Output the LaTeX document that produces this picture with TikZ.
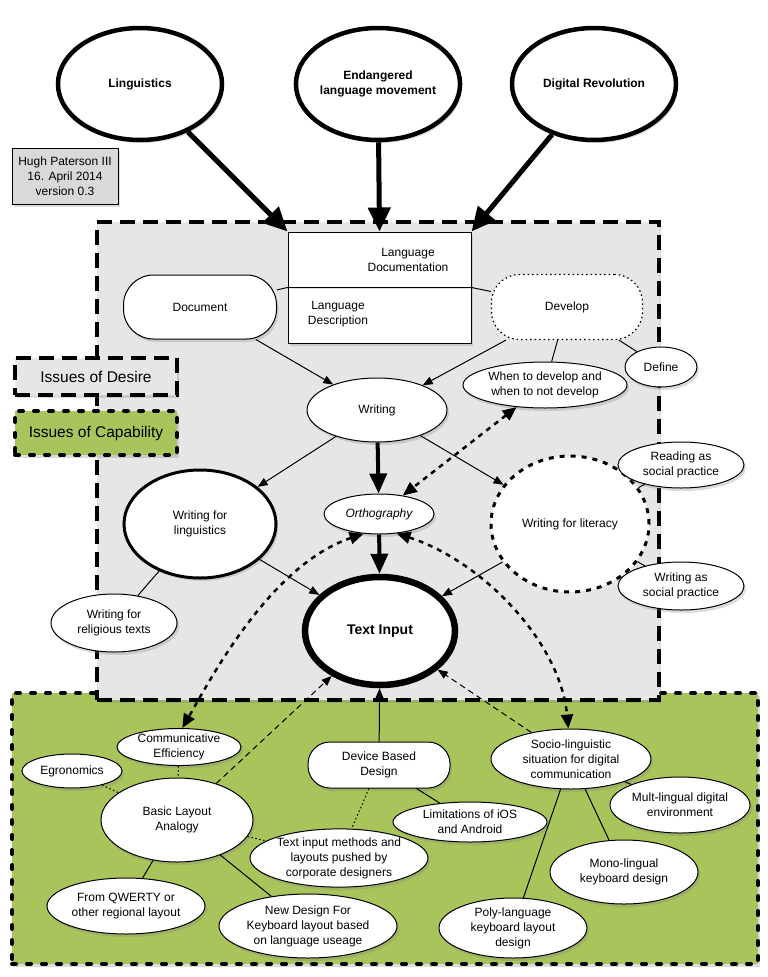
\documentclass[tikz,border=0pt]{standalone}
\usepackage{fontspec}
\setmainfont{Liberation Sans}
\usetikzlibrary{shapes.geometric,arrows.meta,shadows}

\definecolor{desiregray}{RGB}{230,230,230}
\definecolor{capgreen}{RGB}{168,196,90}
\definecolor{notegray}{RGB}{217,217,217}

\newcommand{\diagtext}{\fontsize{12}{15}\selectfont}

\tikzset{
  softshadow/.style={drop shadow={shadow xshift=2pt,shadow yshift=-3pt,opacity=0.28}},
  oval/.style={ellipse,draw,fill=white,line width=1pt,softshadow},
  topoval/.style={oval,line width=4.5pt,font=\bfseries\diagtext},
  desirebox/.style={draw,line width=4pt,dash pattern=on 15pt off 8pt,fill=desiregray,softshadow},
  capbox/.style={draw,line width=4pt,dash pattern=on 4pt off 11pt,line cap=round,fill=capgreen,softshadow},
  roundbox/.style={draw,fill=white,line width=1pt,rounded corners=30pt},
  link/.style={line width=1pt},
  dotlink/.style={line width=1pt,dash pattern=on 1.5pt off 2.5pt},
  arrowlink/.style={line width=1pt,-{Triangle[length=10pt,width=8pt]}},
  bigarrow/.style={line width=5pt,-{Triangle[length=24pt,width=22pt]}},
  midarrow/.style={line width=4pt,-{Triangle[length=20pt,width=17pt]}},
  dotarrow/.style={line width=2.5pt,dash pattern=on 5pt off 5pt,
    {Triangle[length=14pt,width=12pt]}-{Triangle[length=14pt,width=12pt]}},
  dasharrow/.style={line width=1pt,dash pattern=on 6pt off 4pt,-{Triangle[length=10pt,width=8pt]}}
}

\begin{document}
\begin{tikzpicture}[x=1pt,y=-1pt,
  every node/.style={align=center,inner sep=0pt,font=\diagtext}]
\useasboundingbox (0,0) rectangle (768,977);

% background regions
\node[capbox,minimum width=746pt,minimum height=271pt] (capability) at (385,828.5) {};
\node[desirebox,minimum width=562pt,minimum height=478pt] (desire) at (378,461) {};

% legend
\node[desirebox,minimum width=162pt,minimum height=37pt,font=\fontsize{15.5}{18}\selectfont] (legdesire) at (96,376.5) {Issues of Desire};
\node[capbox,minimum width=162pt,minimum height=44pt,font=\fontsize{15.5}{18}\selectfont] (legcap) at (96,433) {Issues of Capability};

% author note
\node[draw,fill=notegray,line width=0.8pt,softshadow,minimum width=106pt,minimum height=56pt,
      font=\fontsize{12}{15}\selectfont] (note) at (65,176) {Hugh Paterson III\\16. April 2014\\version 0.3};

% sources
\node[topoval,minimum width=164pt,minimum height=112pt] (ling) at (140,84) {Linguistics};
\node[topoval,minimum width=164pt,minimum height=112pt] (endg) at (378,84) {Endangered\\language movement};
\node[topoval,minimum width=164pt,minimum height=112pt] (digi) at (594,84) {Digital Revolution};

% documentation box
\node[draw,fill=white,line width=1pt,softshadow,minimum width=183pt,minimum height=111pt] (ldoc) at (379.5,287.5) {};
\node (ldoctop) at (408,260) {Language\\Documentation};
\node (ldocbot) at (338,314) {Language\\Description};

\draw[bigarrow] (ling) -- (ldoc.north west);
\draw[bigarrow] (endg) -- (ldoc.north);
\draw[bigarrow] (digi) -- (ldoc.north east);

\node[roundbox,softshadow,minimum width=153pt,minimum height=64pt] (doc) at (200,307) {Document};
\node[draw,fill=white,line width=1.2pt,dash pattern=on 1.5pt off 3pt,rounded corners=28pt,
      minimum width=151pt,minimum height=65pt] (dev) at (567,307) {Develop};

\draw[link] (doc) -- (ldoc.west) -- (ldoc.east) -- (dev);

\node[oval,minimum width=72pt,minimum height=40pt] (define) at (661,367) {Define};
\node[oval,minimum width=164pt,minimum height=46pt] (when) at (545,385) {When to develop and\\when to not develop};
\draw[link] (dev) -- (define);
\draw[link] (dev) -- (when);

% writing
\node[oval,minimum width=140pt,minimum height=64pt] (writing) at (377,410) {Writing};
\draw[arrowlink] (doc) -- (writing);
\draw[arrowlink] (dev) -- (writing);

\node[oval,line width=3pt,minimum width=152pt,minimum height=108pt] (wfl) at (200,524) {Writing for\\linguistics};
\node[oval,minimum width=110pt,minimum height=40pt,font=\itshape\diagtext] (ortho) at (379,514) {Orthography};
\node[ellipse,draw,fill=white,line width=3pt,dash pattern=on 5pt off 6pt,
      minimum width=158pt,minimum height=136pt] (lit) at (570,524) {Writing for literacy};
\node[oval,minimum width=126pt,minimum height=46pt] (reading) at (681,465) {Reading as\\social practice};
\node[oval,minimum width=126pt,minimum height=48pt] (wsoc) at (681,586) {Writing as\\social practice};
\node[oval,line width=6.5pt,minimum width=150pt,minimum height=108pt,
      font=\bfseries\fontsize{14}{17}\selectfont] (ti) at (380,631) {Text Input};
\node[oval,minimum width=126pt,minimum height=58pt] (relig) at (114,623) {Writing for\\religious texts};

\draw[arrowlink] (writing) -- (wfl);
\draw[midarrow] (writing) -- (ortho);
\draw[arrowlink] (writing) -- (lit);
\draw[midarrow] (ortho) -- (ti);
\draw[arrowlink] (wfl) -- (ti);
\draw[arrowlink] (lit) -- (ti);
\draw[link] (wfl) -- (relig);
\draw[link] (lit) -- (reading);
\draw[link] (lit) -- (wsoc);
\draw[dotarrow] (when) -- (ortho);

% capability nodes
\node[oval,minimum width=124pt,minimum height=36pt] (comm) at (179,747) {Communicative\\Efficiency};
\node[oval,minimum width=100pt,minimum height=34pt] (egro) at (72,771) {Egronomics};
\node[oval,minimum width=152pt,minimum height=84pt] (basic) at (177,820) {Basic Layout\\Analogy};
\node[roundbox,softshadow,rounded corners=22pt,minimum width=142pt,minimum height=46pt] (device) at (379,765) {Device Based\\Design};
\node[oval,minimum width=160pt,minimum height=60pt] (socio) at (571,759) {Socio-linguistic\\situation for digital\\communication};
\node[oval,minimum width=140pt,minimum height=56pt] (mult) at (680,805) {Mult-lingual digital\\environment};
\node[oval,minimum width=154pt,minimum height=40pt] (limit) at (470,822) {Limitations of iOS\\and Android};
\node[oval,minimum width=178pt,minimum height=58pt] (tim) at (339,858) {Text input methods and\\layouts pushed by\\corporate designers};
\node[oval,minimum width=158pt,minimum height=56pt] (qwerty) at (126,906) {From QWERTY or\\other regional layout};
\node[oval,minimum width=178pt,minimum height=64pt] (newd) at (308,926) {New Design For\\Keyboard layout based\\on language useage};
\node[oval,minimum width=148pt,minimum height=64pt] (mono) at (624,872) {Mono-lingual\\keyboard design};
\node[oval,minimum width=148pt,minimum height=60pt] (poly) at (513,928) {Poly-language\\keyboard layout\\design};

\draw[dotarrow] (ortho.232) .. controls (270,565) and (210,680) .. (comm.80);
\draw[dotarrow] (ortho.-48) .. controls (480,560) and (560,640) .. (socio.95);
\draw[dasharrow] (basic) -- (ti);
\draw[dasharrow] (socio) -- (ti);
\draw[arrowlink] (device) -- (ti);

\draw[dotlink] (comm) -- (basic);
\draw[dotlink] (egro) -- (basic);
\draw[dotlink] (basic) -- (tim);
\draw[dotlink] (device) -- (tim);
\draw[link] (basic) -- (qwerty);
\draw[link] (basic) -- (newd);
\draw[link] (device) -- (limit);
\draw[link] (socio) -- (poly);
\draw[link] (socio) -- (mono);
\draw[link] (socio) -- (mult);
\end{tikzpicture}
\end{document}
